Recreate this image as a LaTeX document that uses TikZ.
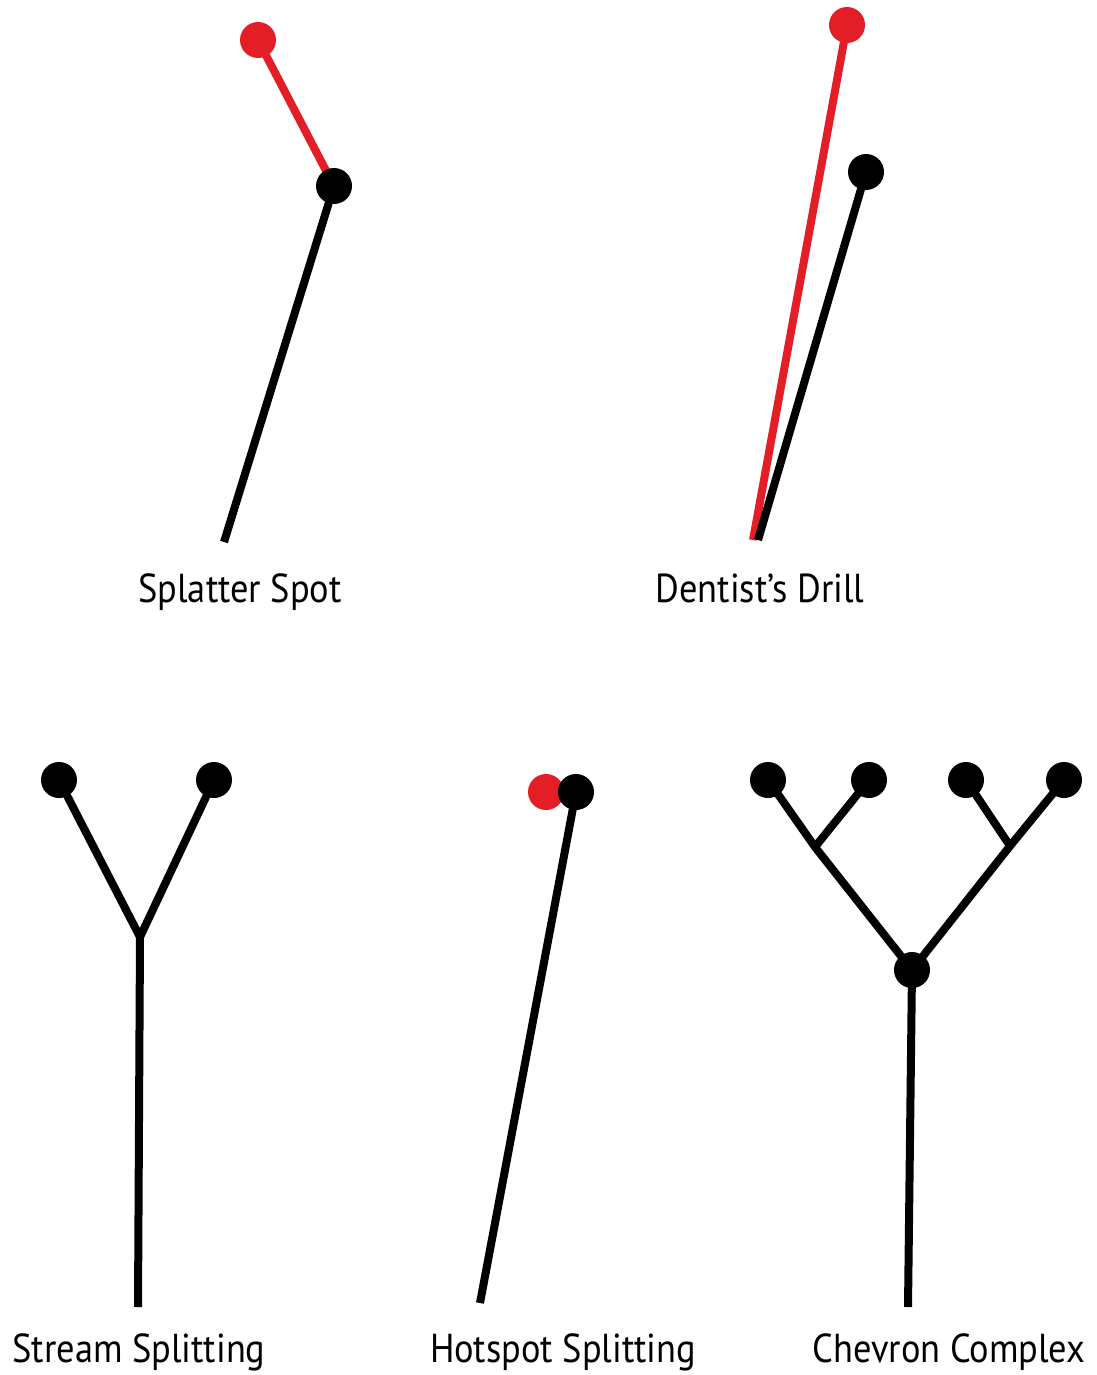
\documentclass[tikz,border=0pt]{standalone}
\usepackage{fontspec}
\setmainfont[FakeStretch=0.9]{PT Sans}
\usetikzlibrary{backgrounds}
\definecolor{dotred}{RGB}{228,30,38}
\begin{document}
\begin{tikzpicture}[x=0.02cm,y=-0.02cm,
  dotnode/.style={circle,fill=black,inner sep=0pt,minimum size=0.72cm},
  reddotnode/.style={dotnode,fill=dotred},
  blackline/.style={line width=0.16cm,black},
  redline/.style={line width=0.16cm,dotred},
  lbl/.style={anchor=base,font=\fontsize{23}{26}\selectfont,inner sep=0pt}]
\useasboundingbox (0,0) rectangle (1097,1375);

% Splatter Spot
\node[reddotnode] (ssr) at (258,40) {};
\node[dotnode] (ssb) at (334,186) {};
\coordinate (ssend) at (224,542);
\node[lbl] (ssl) at (240,602) {Splatter Spot};

% Dentist's Drill
\node[reddotnode] (ddr) at (847,25) {};
\node[dotnode] (ddb) at (866,172) {};
\coordinate (ddrend) at (753,540);
\coordinate (ddbend) at (758,540);
\node[lbl] (ddl) at (760,602) {Dentist’s Drill};

% Stream Splitting
\node[dotnode] (st1) at (59,780) {};
\node[dotnode] (st2) at (214,780) {};
\coordinate (stj) at (140,937);
\coordinate (stend) at (138,1307);
\node[lbl] (stl) at (139,1362) {Stream Splitting};

% Hotspot Splitting
\node[reddotnode] (hsr) at (546,792) {};
\node[dotnode] (hsb) at (576,792) {};
\coordinate (hsend) at (480,1303);
\node[lbl] (hsl) at (563,1362) {Hotspot Splitting};

% Chevron Complex
\node[dotnode] (ch1) at (768,780) {};
\node[dotnode] (ch2) at (869,780) {};
\node[dotnode] (ch3) at (966,780) {};
\node[dotnode] (ch4) at (1064,780) {};
\coordinate (chj1) at (815,847);
\coordinate (chj2) at (1010,846);
\node[dotnode] (chc) at (912,970) {};
\coordinate (chend) at (908,1307);
\node[lbl] (chl) at (949,1362) {Chevron Complex};

\begin{scope}[on background layer]
  \draw[redline] (ssr.center) -- (ssb.center);
  \draw[blackline] (ssb.center) -- (ssend);
  \draw[redline] (ddr.center) -- (ddrend);
  \draw[blackline] (ddb.center) -- (ddbend);
  \draw[blackline] (st1.center) -- (stj) -- (st2.center);
  \draw[blackline] (stj) -- (stend);
  \draw[blackline] (hsb.center) -- (hsend);
  \draw[blackline] (ch1.center) -- (chj1) -- (chc.center) -- (chj2) -- (ch4.center);
  \draw[blackline] (ch2.center) -- (chj1);
  \draw[blackline] (ch3.center) -- (chj2);
  \draw[blackline] (chc.center) -- (chend);
\end{scope}
\end{tikzpicture}
\end{document}
